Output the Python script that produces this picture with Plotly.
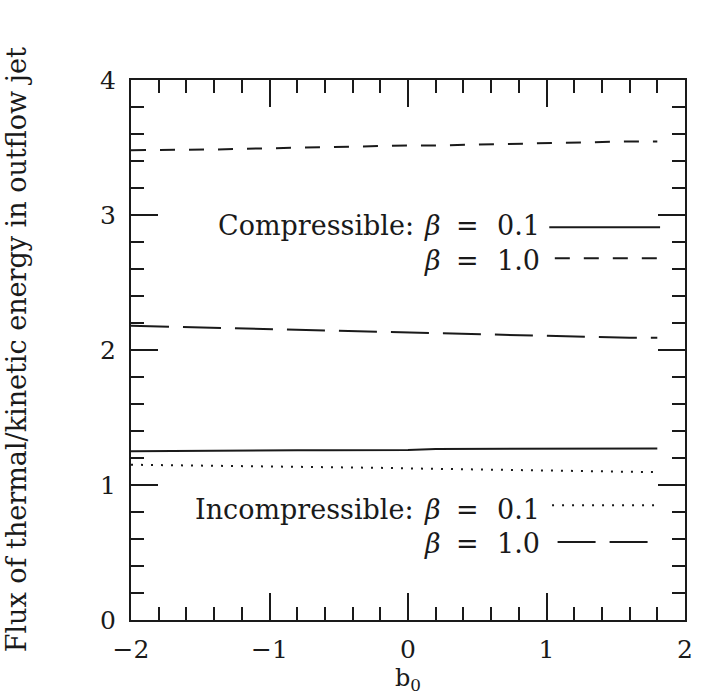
import plotly.graph_objects as go

b0 = [-2.0, -1.8, -1.6, -1.4, -1.2, -1.0, -0.8, -0.6, -0.4, -0.2,
      0.0, 0.2, 0.4, 0.6, 0.8, 1.0, 1.2, 1.4, 1.6, 1.8]
comp_b01 = [1.25, 1.252, 1.254, 1.255, 1.256, 1.256, 1.257, 1.257, 1.258, 1.258,
            1.259, 1.267, 1.268, 1.268, 1.269, 1.269, 1.27, 1.27, 1.27, 1.27]
comp_b10 = [3.48, 3.48, 3.48, 3.485, 3.49, 3.495, 3.50, 3.50, 3.505, 3.51,
            3.515, 3.515, 3.52, 3.52, 3.525, 3.53, 3.535, 3.54, 3.545, 3.545]
incomp_b01 = [1.15, 1.148, 1.145, 1.143, 1.14, 1.137, 1.135, 1.132, 1.13, 1.127,
              1.123, 1.12, 1.117, 1.114, 1.111, 1.108, 1.105, 1.102, 1.098, 1.095]
incomp_b10 = [2.18, 2.175, 2.17, 2.165, 2.16, 2.155, 2.15, 2.145, 2.14, 2.135,
              2.13, 2.125, 2.12, 2.115, 2.11, 2.105, 2.10, 2.095, 2.09, 2.09]

INK = "#1a1a1a"
FONT = "DejaVu Serif"
styles = {
    "solid": "solid",
    "short": "15px,14px",
    "dot": "2px,8px",
    "long": "38px,14px",
}

fig = go.Figure()
series = [
    (comp_b01, "solid"),
    (comp_b10, "short"),
    (incomp_b01, "dot"),
    (incomp_b10, "long"),
]
for ys, st in series:
    fig.add_trace(go.Scatter(x=b0, y=ys, mode="lines",
                             line=dict(color=INK, width=2, dash=styles[st]),
                             showlegend=False, hoverinfo="skip"))

# in-plot key: (label, beta value, text y, line y, style, line x0, line x1)
key = [
    ("Compressible:", "0.1", 2.925, 2.91, "solid", 1.02, 1.82),
    ("", "1.0", 2.665, 2.68, "short", 1.06, 1.82),
    ("Incompressible:", "0.1", 0.815, 0.85, "dot", 1.04, 1.80),
    ("", "1.0", 0.57, 0.578, "long", 1.08, 1.74),
]
kfont = dict(family=FONT, size=27, color=INK)
for label, val, ty, ly, st, x0, x1 in key:
    if label:
        fig.add_annotation(x=0.06, y=ty, xref="x", yref="y", text=label,
                           showarrow=False, xanchor="right", yanchor="middle", font=kfont)
    fig.add_annotation(x=0.18, y=ty, xref="x", yref="y", text="<i>β</i>",
                       showarrow=False, xanchor="center", yanchor="middle", font=kfont)
    fig.add_annotation(x=0.43, y=ty, xref="x", yref="y", text="=",
                       showarrow=False, xanchor="center", yanchor="middle", font=kfont)
    fig.add_annotation(x=0.97, y=ty, xref="x", yref="y", text=val,
                       showarrow=False, xanchor="right", yanchor="middle", font=kfont)
    fig.add_shape(type="line", xref="x", yref="y", x0=x0, x1=x1, y0=ly, y1=ly,
                  line=dict(color=INK, width=2, dash=styles[st]))

axis_common = dict(
    showgrid=False, zeroline=False, showline=True, linecolor=INK, linewidth=2,
    mirror="allticks", ticks="inside", ticklen=27, tickwidth=2, tickcolor=INK,
    tickfont=dict(family=FONT, size=25, color=INK),
    minor=dict(ticks="inside", ticklen=13, tickwidth=2, tickcolor=INK, dtick=0.2),
)
fig.update_xaxes(range=[-2, 2], tickvals=[-2, -1, 0, 1, 2],
                 ticktext=["\u22122", "\u22121", "0", "1", "2"],
                 title=dict(text="b<sub>0</sub>", font=dict(family=FONT, size=24, color=INK), standoff=2),
                 ticklabelstandoff=6, **axis_common)
fig.update_yaxes(range=[0, 4], tickvals=[0, 1, 2, 3, 4],
                 ticklabelstandoff=8, **axis_common)

fig.add_annotation(xref="paper", yref="paper", x=-0.207, y=0.5,
                   text="Flux of thermal/kinetic energy in outflow jet",
                   textangle=-90, showarrow=False, xanchor="center", yanchor="middle",
                   font=dict(family=FONT, size=27, color=INK))

fig.update_layout(width=703, height=696, plot_bgcolor="white", paper_bgcolor="white",
                  margin=dict(l=131, r=10, t=80, b=76))
fig.write_html("out.html")
